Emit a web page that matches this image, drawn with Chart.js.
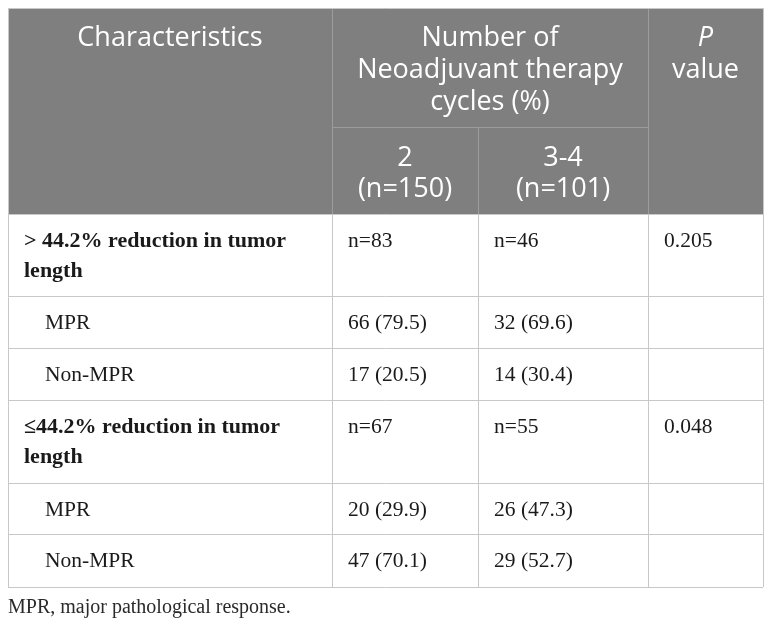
<!DOCTYPE html>
<html>
<head>
<meta charset="utf-8">
<script src="https://cdn.jsdelivr.net/npm/chart.js@4.4.1/dist/chart.umd.min.js"></script>
<style>
  html, body { margin: 0; padding: 0; background: #fff; }
</style>
</head>
<body>
<canvas id="cyclesTable" width="772" height="627"></canvas>
<script>
// ─── Table content ────────────────────────────────────────────
const headCharacteristics = 'Characteristics';
const headCycles          = 'Number of\nNeoadjuvant therapy\ncycles (%)';
const headPValue          = ['P', 'value'];
const cycleGroups         = ['2\n(n=150)', '3-4\n(n=101)'];

const rowLabels = ['> 44.2% reduction in tumor\nlength', 'MPR', 'Non-MPR',
                   '≤44.2% reduction in tumor\nlength', 'MPR', 'Non-MPR'];
const rowIsGroup = [true, false, false, true, false, false];
const cycles2    = ['n=83', '66 (79.5)', '17 (20.5)', 'n=67', '20 (29.9)', '47 (70.1)'];
const cycles34   = ['n=46', '32 (69.6)', '14 (30.4)', 'n=55', '26 (47.3)', '29 (52.7)'];
const pValues    = ['0.205', '', '', '0.048', '', ''];
const footnote   = 'MPR, major pathological response.';

// ─── Layout (table units, mapped through the chart scales) ────
const colWidths   = [324, 146, 170, 115];
const headHeights = [119, 87];
const rowHeights  = [82, 52, 52, 83, 51, 53];

const cum = arr => arr.reduce((a, v) => (a.push(a[a.length - 1] + v), a), [0]);
const colEdges  = cum(colWidths);
const headEdges = cum(headHeights);
const rowEdges  = cum(rowHeights).map(v => v + headEdges[headEdges.length - 1]);
const tableW = colEdges[colEdges.length - 1];
const tableH = rowEdges[rowEdges.length - 1];

const HEAD_FONT   = "27px 'Open Sans', sans-serif";
const HEAD_FONT_I = "italic 27px 'Open Sans', sans-serif";
const BODY_FONT   = "21.5px 'Liberation Serif', 'Times New Roman', serif";
const BODY_FONT_B = "bold 22px 'Liberation Serif', 'Times New Roman', serif";

// ─── Table plugin: draws cells through the x / y scales ───────
const tablePlugin = {
  id: 'tablePlugin',
  afterDraw(chart) {
    const { ctx, scales: { x, y } } = chart;
    const px = v => x.getPixelForValue(v);
    const py = v => y.getPixelForValue(v);
    const crisp = v => Math.round(v) + 0.5;

    const hline = (x0, x1, yv, color) => {
      ctx.strokeStyle = color; ctx.lineWidth = 1;
      ctx.beginPath(); ctx.moveTo(px(x0), crisp(py(yv))); ctx.lineTo(px(x1), crisp(py(yv))); ctx.stroke();
    };
    const vline = (xv, y0, y1, color) => {
      ctx.strokeStyle = color; ctx.lineWidth = 1;
      ctx.beginPath(); ctx.moveTo(crisp(px(xv)), py(y0)); ctx.lineTo(crisp(px(xv)), py(y1)); ctx.stroke();
    };
    const lines = (text, cx, firstY, step, align, font) => {
      ctx.font = font; ctx.textAlign = align; ctx.textBaseline = 'middle';
      text.split('\n').forEach((t, i) => ctx.fillText(t, cx, py(firstY + i * step)));
    };

    ctx.save();

    // header block
    const headBottom = headEdges[2];
    ctx.fillStyle = '#7f7f7f';
    ctx.fillRect(px(0), py(0), px(tableW) - px(0), py(headBottom) - py(0));

    const headLine = '#9c9c9c';
    vline(colEdges[1], 0, headBottom, headLine);
    vline(colEdges[3], 0, headBottom, headLine);
    hline(colEdges[1], colEdges[3], headEdges[1], headLine);
    vline(colEdges[2], headEdges[1], headBottom, headLine);

    ctx.fillStyle = '#ffffff';
    const mid = (a, b) => (px(a) + px(b)) / 2;
    lines(headCharacteristics, mid(colEdges[0], colEdges[1]), 30, 32, 'center', HEAD_FONT);
    lines(headCycles, mid(colEdges[1], colEdges[3]), 30, 32, 'center', HEAD_FONT);
    lines(headPValue[0], mid(colEdges[3], colEdges[4]), 30, 32, 'center', HEAD_FONT_I);
    lines(headPValue[1], mid(colEdges[3], colEdges[4]), 62, 32, 'center', HEAD_FONT);
    cycleGroups.forEach((g, i) =>
      lines(g, mid(colEdges[i + 1], colEdges[i + 2]), headEdges[1] + 31, 31, 'center', HEAD_FONT));

    // body grid
    const bodyLine = '#c8c8c8';
    rowEdges.forEach(r => hline(0, tableW, r, bodyLine));
    [1, 2, 3].forEach(c => vline(colEdges[c], headBottom, tableH, bodyLine));
    vline(0, 0, tableH, bodyLine);
    vline(tableW, 0, tableH, bodyLine);
    hline(0, tableW, 0, bodyLine);

    // body text
    ctx.fillStyle = '#1a1a1a';
    rowLabels.forEach((label, i) => {
      const top = rowEdges[i];
      const indent = rowIsGroup[i] ? 16 : 37;
      lines(label, px(colEdges[0]) + indent, top + 27, 30, 'left', rowIsGroup[i] ? BODY_FONT_B : BODY_FONT);
      lines(cycles2[i],  px(colEdges[1]) + 16, top + 27, 30, 'left', BODY_FONT);
      lines(cycles34[i], px(colEdges[2]) + 16, top + 27, 30, 'left', BODY_FONT);
      if (pValues[i]) lines(pValues[i], px(colEdges[3]) + 16, top + 27, 30, 'left', BODY_FONT);
    });

    ctx.restore();
  }
};

new Chart(document.getElementById('cyclesTable').getContext('2d'), {
  type: 'scatter',
  data: { datasets: [{ data: [], pointRadius: 0 }] },
  options: {
    responsive: false,
    animation: false,
    layout: { padding: { left: 8, top: 8, right: 9, bottom: 7 } },
    plugins: {
      legend:  { display: false },
      tooltip: { enabled: false },
      title: {
        display: true,
        position: 'bottom',
        align: 'start',
        text: footnote,
        color: '#2a2a2a',
        font: { family: "'Liberation Serif', 'Times New Roman', serif", size: 20, weight: 'normal', lineHeight: 1.2 },
        padding: { top: 9, bottom: 0 },
      },
    },
    scales: {
      x: { type: 'linear', display: false, min: 0, max: tableW },
      y: { type: 'linear', display: false, min: 0, max: tableH, reverse: true },
    },
  },
  plugins: [tablePlugin],
});
</script>
</body>
</html>
